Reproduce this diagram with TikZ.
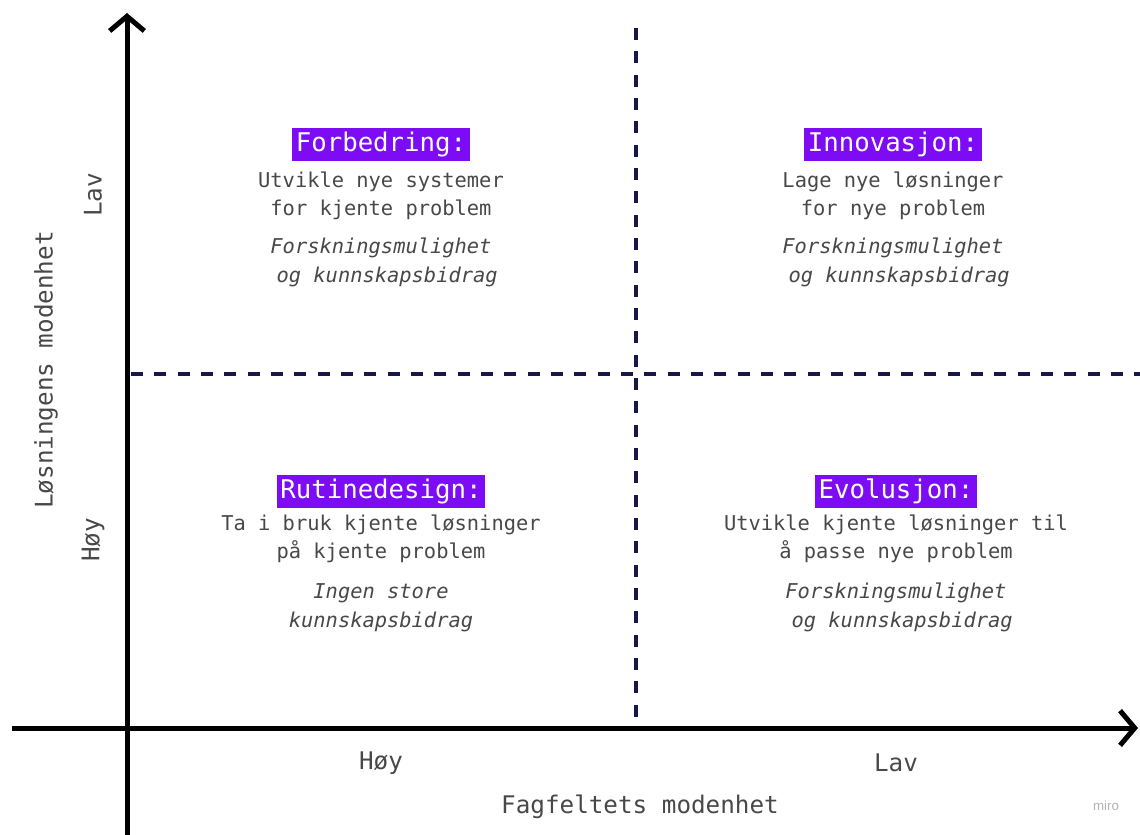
\documentclass[tikz,border=0pt]{standalone}
\usepackage{fontspec}
\setmainfont{DejaVu Sans Mono}
\setmonofont{DejaVu Sans Mono}
\newfontfamily\mirofont{Liberation Sans}
\usetikzlibrary{positioning}
\usetikzlibrary{arrows.meta}
\definecolor{quadpurple}{RGB}{125,12,245}
\definecolor{gridnavy}{RGB}{24,24,70}
\definecolor{textgray}{RGB}{72,72,72}

\begin{document}
\begin{tikzpicture}[x=0.75pt, y=-0.75pt, >={Straight Barb[length=11pt,width=26pt]},
        axisline/.style={->, line width=3.75pt, black},
        divider/.style={line width=2.3pt, gridnavy, dash pattern=on 9pt off 8.5pt},
        quadtitle/.style={fill=quadpurple, text=white, font=\fontsize{19.3pt}{22pt}\selectfont, inner xsep=2.5pt, inner ysep=0pt, minimum height=24.75pt},
        quaddesc/.style={align=center, text=textgray, inner sep=0pt, font=\fontsize{15.3pt}{21pt}\selectfont},
        quadnote/.style={align=center, text=textgray, inner sep=0pt, font=\fontsize{15.3pt}{21.75pt}\selectfont\itshape},
        axislabel/.style={text=textgray, inner sep=0pt, font=\fontsize{18.2pt}{21pt}\selectfont}]
        % Fixed frame
        \useasboundingbox (0,0) rectangle (1140,835);

        % Axes
        \coordinate (xstart) at (12,728);
        \coordinate (xend) at (1138,728);
        \coordinate (ystart) at (127,835);
        \coordinate (yend) at (127,13);
        \draw[axisline] (xstart) -- (xend);
        \draw[axisline] (ystart) -- (yend);

        % Dashed quadrant dividers
        \coordinate (hleft) at (131,374);
        \coordinate (hright) at (1140,374);
        \coordinate (vtop) at (636,28);
        \coordinate (vbottom) at (636,722);
        \draw[divider] (hleft) -- (hright);
        \draw[divider] (vtop) -- (vbottom);

        % Upper left: Forbedring
        \node[quadtitle] (forbedring) at (381,144) {Forbedring:};
        \node[quaddesc, below of=forbedring, node distance=39pt] (forbedring_desc) {Utvikle nye systemer\\for kjente problem};
        \node[quadnote, below of=forbedring_desc, node distance=50pt] (forbedring_note) {Forskningsmulighet\\\hphantom{o}og kunnskapsbidrag};

        % Upper right: Innovasjon
        \node[quadtitle] (innovasjon) at (893,144) {Innovasjon:};
        \node[quaddesc, below of=innovasjon, node distance=39pt] (innovasjon_desc) {Lage nye løsninger\\for nye problem};
        \node[quadnote, below of=innovasjon_desc, node distance=50pt] (innovasjon_note) {Forskningsmulighet\\\hphantom{o}og kunnskapsbidrag};

        % Lower left: Rutinedesign
        \node[quadtitle] (rutinedesign) at (381,491) {Rutinedesign:};
        \node[quaddesc, below of=rutinedesign, node distance=36pt] (rutinedesign_desc) {Ta i bruk kjente løsninger\\på kjente problem};
        \node[quadnote, below of=rutinedesign_desc, node distance=51.5pt] (rutinedesign_note) {Ingen store\\kunnskapsbidrag};

        % Lower right: Evolusjon
        \node[quadtitle] (evolusjon) at (896,491) {Evolusjon:};
        \node[quaddesc, below of=evolusjon, node distance=36pt] (evolusjon_desc) {Utvikle kjente løsninger til\\å passe nye problem};
        \node[quadnote, below of=evolusjon_desc, node distance=51.5pt] (evolusjon_note) {Forskningsmulighet\\\hphantom{o}og kunnskapsbidrag};

        % Axis labels
        \node[axislabel] (x_hoy) at (381,763) {Høy};
        \node[axislabel] (x_lav) at (896,763) {Lav};
        \node[axislabel] (x_title) at (640,807) {Fagfeltets modenhet};
        \node[axislabel, rotate=90] (y_lav) at (93,195) {Lav};
        \node[axislabel, rotate=90] (y_hoy) at (93,540) {Høy};
        \node[axislabel, rotate=90] (y_title) at (46,370) {Løsningens modenhet};

        % Watermark
        \node[text=black!30, inner sep=0pt, font=\mirofont\fontsize{10pt}{11pt}\selectfont] (miro) at (1106,806) {miro};
    \end{tikzpicture}
\end{document}
